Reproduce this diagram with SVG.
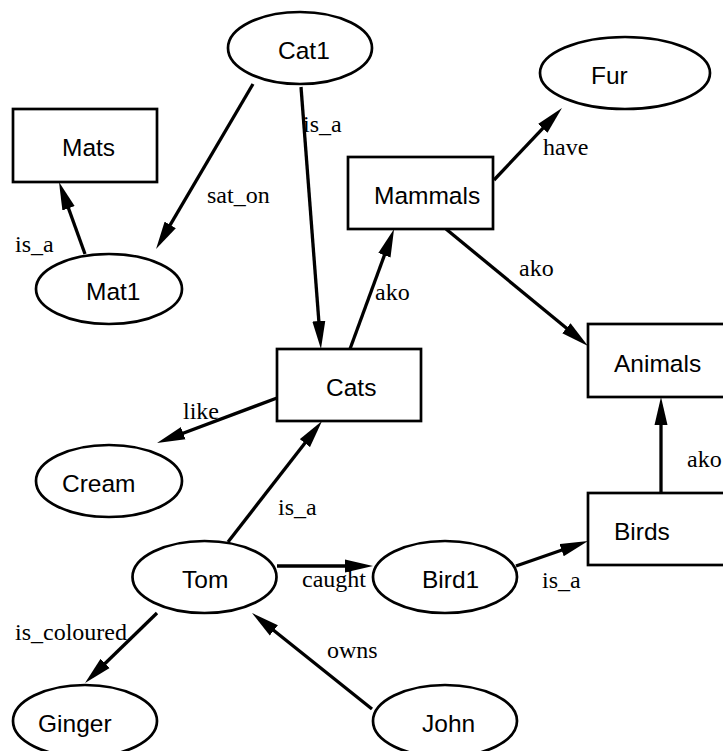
<svg xmlns="http://www.w3.org/2000/svg" width="723" height="751" viewBox="0 0 723 751">
<style>
.n{fill:#fff;stroke:#000;stroke-width:2.7}
.t{font-family:"Liberation Sans",Arial,sans-serif;font-size:24.5px;fill:#000}
.e{stroke:#000;stroke-width:3.3;fill:none;marker-end:url(#ah)}
.l{font-family:"Liberation Serif","Times New Roman",serif;font-size:24px;fill:#000}
</style>
<defs>
<marker id="ah" markerUnits="userSpaceOnUse" markerWidth="28" markerHeight="14" refX="18" refY="7" orient="auto">
<path d="M0,0.5 L28,7 L0,13.5 z" fill="#000"/>
</marker>
</defs>
<rect width="723" height="751" fill="#fff"/>
<g id="connectors">
<line class="e" x1="253" y1="84" x2="161.1" y2="240.4"/>
<line class="e" x1="301" y1="87" x2="320.2" y2="339"/>
<line class="e" x1="85" y1="254" x2="62.4" y2="191.4"/>
<line class="e" x1="350" y1="349" x2="390.6" y2="238.4"/>
<line class="e" x1="494" y1="180" x2="555.1" y2="115.3"/>
<line class="e" x1="446" y1="229" x2="580.3" y2="339.6"/>
<line class="e" x1="277" y1="398" x2="166.4" y2="439.5"/>
<line class="e" x1="228" y1="542" x2="315.9" y2="428.9"/>
<line class="e" x1="277" y1="566" x2="363" y2="566"/>
<line class="e" x1="372" y1="709" x2="259.8" y2="619.2"/>
<line class="e" x1="157" y1="613" x2="92.2" y2="676"/>
<line class="e" x1="516" y1="566" x2="578.6" y2="544.3"/>
<line class="e" x1="661" y1="493" x2="661" y2="407"/>
<text class="l" x="207" y="203">sat_on</text>
<text class="l" x="303" y="132">is_a</text>
<text class="l" x="15" y="252">is_a</text>
<text class="l" x="375" y="300">ako</text>
<text class="l" x="543" y="155">have</text>
<text class="l" x="519" y="276">ako</text>
<text class="l" x="183" y="419">like</text>
<text class="l" x="278" y="515">is_a</text>
<text class="l" x="302" y="587">caught</text>
<text class="l" x="327" y="658">owns</text>
<text class="l" x="15" y="640">is_coloured</text>
<text class="l" x="542" y="588">is_a</text>
<text class="l" x="687" y="467">ako</text>
</g>
<g id="Cat1"><ellipse class="n" cx="300" cy="48" rx="72" ry="36"/><text class="t" x="278" y="59">Cat1</text></g>
<g id="Mats"><rect class="n" x="13" y="109" width="144" height="73"/><text class="t" x="62" y="156">Mats</text></g>
<g id="Mat1"><ellipse class="n" cx="109" cy="289" rx="73" ry="35"/><text class="t" x="86" y="300">Mat1</text></g>
<g id="Fur"><ellipse class="n" cx="625" cy="73" rx="85" ry="36"/><text class="t" x="591" y="84">Fur</text></g>
<g id="Mammals"><rect class="n" x="348" y="157" width="145" height="72"/><text class="t" x="374" y="204">Mammals</text></g>
<g id="Cats"><rect class="n" x="277" y="349" width="144" height="72"/><text class="t" x="326" y="396">Cats</text></g>
<g id="Animals"><rect class="n" x="588" y="324" width="145" height="73"/><text class="t" x="614" y="372">Animals</text></g>
<g id="Birds"><rect class="n" x="588" y="493" width="145" height="72"/><text class="t" x="614" y="540">Birds</text></g>
<g id="Cream"><ellipse class="n" cx="109" cy="481" rx="73" ry="36"/><text class="t" x="62" y="492">Cream</text></g>
<g id="Tom"><ellipse class="n" cx="204.5" cy="577" rx="72" ry="36"/><text class="t" x="182" y="588">Tom</text></g>
<g id="Ginger"><ellipse class="n" cx="85" cy="721" rx="72" ry="36"/><text class="t" x="38" y="732">Ginger</text></g>
<g id="Bird1"><ellipse class="n" cx="445" cy="577" rx="72" ry="36"/><text class="t" x="422" y="588">Bird1</text></g>
<g id="John"><ellipse class="n" cx="445" cy="721" rx="72" ry="36"/><text class="t" x="422" y="732">John</text></g>
</svg>
